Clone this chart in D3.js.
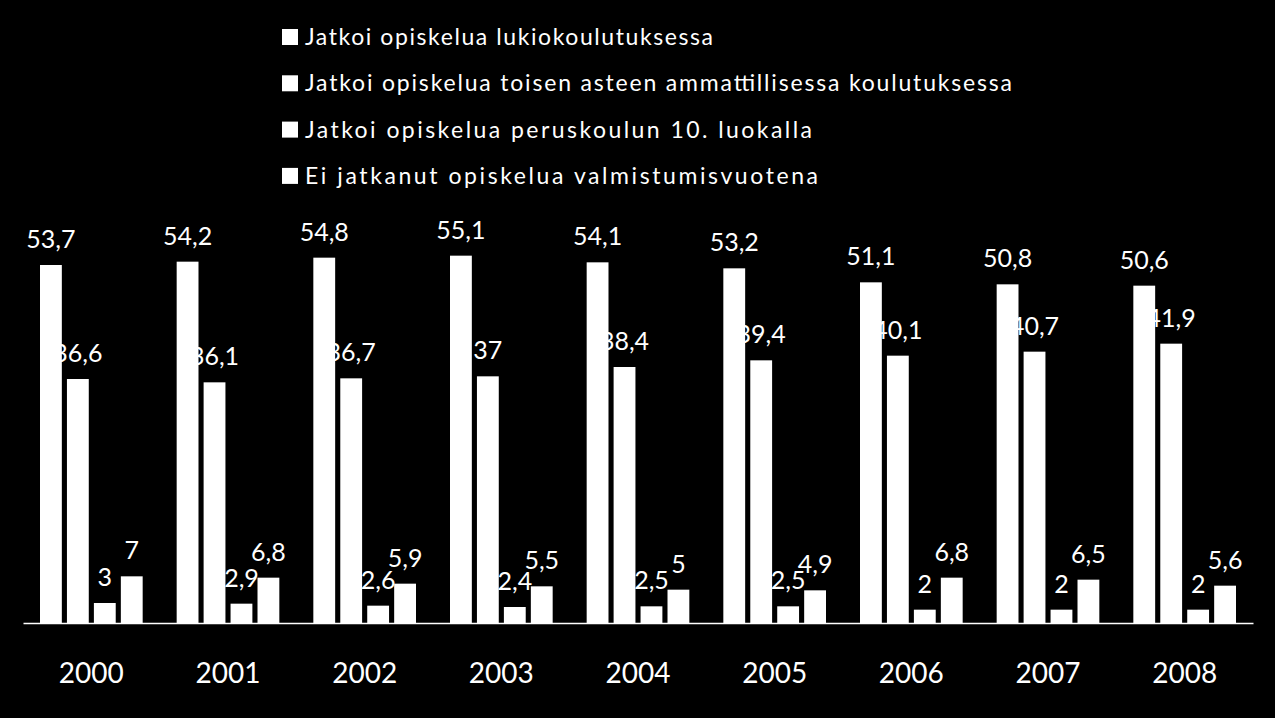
<!DOCTYPE html>
<html>
<head>
<meta charset="utf-8">
<script src="https://cdn.jsdelivr.net/npm/d3@7"></script>
<style>
  body { margin: 0; background: #000; }
  svg { display: block; font-family: Lato, "Open Sans", sans-serif; }
</style>
</head>
<body>
<svg id="chart" width="1275" height="718"></svg>
<script>
// data
var years = ["2000","2001","2002","2003","2004","2005","2006","2007","2008"];
var seriesNames = [
    "Jatkoi opiskelua lukiokoulutuksessa"
    ,"Jatkoi opiskelua toisen asteen ammattillisessa koulutuksessa"
    ,"Jatkoi opiskelua peruskoulun 10. luokalla"
    ,"Ei jatkanut opiskelua valmistumisvuotena"
];
var lukio      = [53.7, 54.2, 54.8, 55.1, 54.1, 53.2, 51.1, 50.8, 50.6];
var ammatti    = [36.6, 36.1, 36.7, 37, 38.4, 39.4, 40.1, 40.7, 41.9];
var luokka10   = [3, 2.9, 2.6, 2.4, 2.5, 2.5, 2, 2, 2];
var eiJatkanut = [7, 6.8, 5.9, 5.5, 5, 4.9, 6.8, 6.5, 5.6];

var series = [lukio, ammatti, luokka10, eiJatkanut];

var svg = d3.select('#chart');
var plotLeft = 23, plotRight = 1253, plotBase = 623, plotTop = 223;

//legend text widths as drawn in the original (layout only)
var legendWidths = [408, 707, 507, 513];

//Scales
var x0 = d3.scaleBand().domain(years).range([plotLeft, plotRight]).paddingInner(0).paddingOuter(0);
var x1 = d3.scaleBand().domain(d3.range(series.length))
    .range([17, x0.bandwidth() - 17]).paddingInner(0.19).paddingOuter(0);
var y = d3.scaleLinear().domain([0, 60]).range([plotBase, plotTop]);

var fmt = function(v){ return String(v).replace('.', ','); };

//flatten for drawing
var cells = [];
years.forEach(function(yr, i){
    series.forEach(function(s, j){
        cells.push({year: yr, s: j, v: s[i]});
    });
});

//Value labels first, bars drawn over them (as in the reference)
svg.append('g').selectAll('text').data(cells).join('text')
    .attr('x', function(d){ return x0(d.year) + x1(d.s) + x1.bandwidth()/2; })
    .attr('y', function(d){ return y(d.v) - 17; })
    .attr('text-anchor', 'middle')
    .attr('fill', '#fff')
    .attr('font-size', 25)
    .text(function(d){ return fmt(d.v); });

svg.append('g').selectAll('rect').data(cells).join('rect')
    .attr('x', function(d){ return x0(d.year) + x1(d.s); })
    .attr('y', function(d){ return y(d.v); })
    .attr('width', x1.bandwidth())
    .attr('height', function(d){ return plotBase - y(d.v); })
    .attr('fill', '#fff');

//Axis
var xAxis = svg.append('g')
    .attr('transform', 'translate(0,' + plotBase + ')')
    .call(d3.axisBottom(x0).tickSize(0).tickPadding(40).tickSizeOuter(0));
xAxis.select('.domain').attr('stroke', '#fff').attr('stroke-width', 1.5);
xAxis.selectAll('text').attr('fill', '#fff').attr('font-size', 28)
    .attr('font-family', 'Lato, "Open Sans", sans-serif');

//Legend
var lg = svg.append('g').selectAll('g').data(seriesNames).join('g')
    .attr('transform', function(d, i){ return 'translate(282,' + (37 + i*46.3) + ')'; });
lg.append('rect').attr('x', 0).attr('y', -8).attr('width', 16).attr('height', 16).attr('fill', '#fff');
lg.append('text').attr('x', 23).attr('y', 8)
    .attr('fill', '#fff').attr('font-size', 23)
    .attr('textLength', function(d, i){ return legendWidths[i]; })
    .attr('lengthAdjust', 'spacing')
    .text(function(d){ return d; });
</script>
</body>
</html>
